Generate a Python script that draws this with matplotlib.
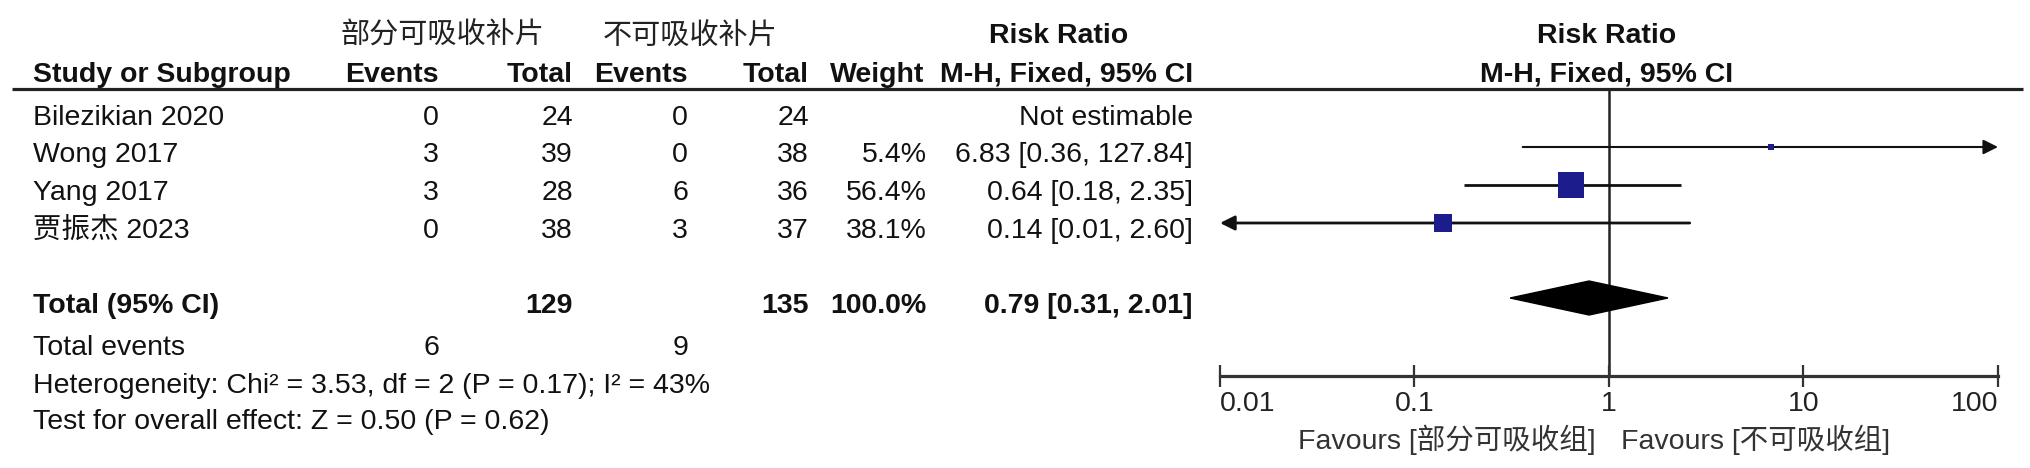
import matplotlib
matplotlib.use("Agg")
import matplotlib.pyplot as plt
from matplotlib.patches import Polygon

plt.rcParams['font.family'] = ['Liberation Sans', 'Noto Sans CJK SC']

# ---- data ----
studies = ["Bilezikian 2020", "Wong 2017", "Yang 2017", "贾振杰 2023"]
events_exp = [0, 3, 3, 0]
total_exp = [24, 39, 28, 38]
events_ctrl = [0, 0, 6, 3]
total_ctrl = [24, 38, 36, 37]
weights = [None, 5.4, 56.4, 38.1]
rr = [None, 6.83, 0.64, 0.14]
rr_low = [None, 0.36, 0.18, 0.01]
rr_high = [None, 127.84, 2.35, 2.60]

pooled_rr, pooled_low, pooled_high = 0.79, 0.31, 2.01
pooled_total_exp, pooled_total_ctrl = 129, 135
total_events_exp, total_events_ctrl = 6, 9
heterogeneity = "Heterogeneity: Chi² = 3.53, df = 2 (P = 0.17); I² = 43%"
overall_test = "Test for overall effect: Z = 0.50 (P = 0.62)"

group_exp = "部分可吸收补片"
group_ctrl = "不可吸收补片"
favours_left = "Favours [部分可吸收组]"
favours_right = "Favours [不可吸收组]"
axis_ticks = [0.01, 0.1, 1, 10, 100]
axis_labels = ["0.01", "0.1", "1", "10", "100"]

# ---- layout (pixels) ----
W, H = 2031, 468
FS = 20.5
TXT = "#111111"
row_y = [110, 147, 185, 223]
total_y, events_y, het_y, test_y = 298, 348, 386, 422
x_study, x_ev_e, x_tot_e, x_ev_c, x_tot_c, x_w, x_ci = 33, 439, 573, 688, 809, 927, 1193

fig = plt.figure(figsize=(W / 100, H / 100), dpi=100)
bg = fig.add_axes([0, 0, 1, 1])
bg.set_xlim(0, W)
bg.set_ylim(H, 0)
bg.axis("off")


def put(x, y, s, ha="right", bold=False, **kw):
    bg.text(x, y, s, ha=ha, va="center", fontsize=FS, color=kw.pop("color", TXT),
            fontweight="bold" if bold else "normal", **kw)


# headers
bg.text(442, 36, group_exp, ha="center", va="center", fontsize=21, color="#222222",
        family="Noto Sans CJK SC")
bg.text(690, 36, group_ctrl, ha="center", va="center", fontsize=21, color="#222222",
        family="Noto Sans CJK SC")
put(1059, 36, "Risk Ratio", ha="center", bold=True)
put(1607, 36, "Risk Ratio", ha="center", bold=True)
put(x_study, 75, "Study or Subgroup", ha="left", bold=True)
put(x_ev_e, 75, "Events", bold=True)
put(x_tot_e, 75, "Total", bold=True)
put(x_ev_c, 75, "Events", bold=True)
put(x_tot_c, 75, "Total", bold=True)
put(x_w - 3, 75, "Weight", bold=True)
put(x_ci, 75, "M-H, Fixed, 95% CI", bold=True)
put(1607, 75, "M-H, Fixed, 95% CI", ha="center", bold=True)
bg.plot([12, 2023], [89, 89], color="#222222", lw=2.3, solid_capstyle="butt")

# study rows
for i, name in enumerate(studies):
    y = row_y[i] + 8
    put(x_study, y, name, ha="left")
    put(x_ev_e, y, str(events_exp[i]))
    put(x_tot_e, y, str(total_exp[i]))
    put(x_ev_c, y, str(events_ctrl[i]))
    put(x_tot_c, y, str(total_ctrl[i]))
    if rr[i] is None:
        put(x_ci, y, "Not estimable")
    else:
        put(x_w, y, f"{weights[i]:.1f}%")
        put(x_ci, y, f"{rr[i]:.2f} [{rr_low[i]:.2f}, {rr_high[i]:.2f}]")

# totals
put(x_study, total_y + 8, "Total (95% CI)", ha="left", bold=True)
put(x_tot_e, total_y + 8, str(pooled_total_exp), bold=True)
put(x_tot_c, total_y + 8, str(pooled_total_ctrl), bold=True)
put(x_w, total_y + 8, "100.0%", bold=True)
put(x_ci, total_y + 8, f"{pooled_rr:.2f} [{pooled_low:.2f}, {pooled_high:.2f}]", bold=True)
put(x_study, events_y, "Total events", ha="left")
put(x_ev_e, events_y, str(total_events_exp))
put(x_ev_c, events_y, str(total_events_ctrl))
put(x_study, het_y, heterogeneity, ha="left")
put(x_study, test_y, overall_test, ha="left")

# ---- forest panel ----
x0, x1, ytop, ybot = 1220, 1998, 89, 376
ax = fig.add_axes([x0 / W, 1 - ybot / H, (x1 - x0) / W, (ybot - ytop) / H])
ax.set_xscale("log")
ax.set_xlim(axis_ticks[0], axis_ticks[-1])
ax.set_ylim(ybot, ytop)
ax.patch.set_alpha(0)
for side in ("left", "right", "top"):
    ax.spines[side].set_visible(False)
ax.spines["bottom"].set_linewidth(2.3)
ax.spines["bottom"].set_color("#333333")
ax.set_yticks([])
ax.set_xticks(axis_ticks)
ax.set_xticklabels(axis_labels)
ax.minorticks_off()
ax.tick_params(axis="x", direction="inout", length=16, width=1.6, color="#333333",
               pad=3, labelsize=FS, labelcolor="#222222")
labels = ax.get_xticklabels()
labels[0].set_ha("left")
labels[-1].set_ha("right")

ax.axvline(1, color="#222222", lw=1.8, zorder=1)

lo_lim, hi_lim = axis_ticks[0], axis_ticks[-1]
for i in range(len(studies)):
    if rr[i] is None:
        continue
    y = row_y[i]
    lo, hi = max(rr_low[i], lo_lim), min(rr_high[i], hi_lim)
    lw = 1.5 if weights[i] < 10 else 2.0
    if rr_high[i] > hi_lim:
        ax.annotate("", xy=(hi, y), xytext=(lo, y), annotation_clip=False,
                    arrowprops=dict(arrowstyle="-|>", color="#111111", lw=lw,
                                    shrinkA=0, shrinkB=0, mutation_scale=22))
    elif rr_low[i] <= lo_lim:
        ax.annotate("", xy=(lo, y), xytext=(hi, y), annotation_clip=False,
                    arrowprops=dict(arrowstyle="-|>", color="#111111", lw=lw,
                                    shrinkA=0, shrinkB=0, mutation_scale=22))
    else:
        ax.plot([lo, hi], [y, y], color="#111111", lw=lw, solid_capstyle="butt")
    side_px = 3.5 + 22.5 * weights[i] / 56.4
    ax.plot(rr[i], y, marker="s", markersize=side_px * 0.72, color="#1c1c8c",
            markeredgewidth=0, zorder=3)

diamond = Polygon([(pooled_low, total_y), (pooled_rr, total_y - 17),
                   (pooled_high, total_y), (pooled_rr, total_y + 17)],
                  closed=True, facecolor="black", edgecolor="black", zorder=3)
ax.add_patch(diamond)

bg.text(1596, 440, favours_left, ha="right", va="center", fontsize=FS, color="#333333")
bg.text(1621, 440, favours_right, ha="left", va="center", fontsize=FS, color="#333333")

fig.savefig("out.png", dpi=100)
